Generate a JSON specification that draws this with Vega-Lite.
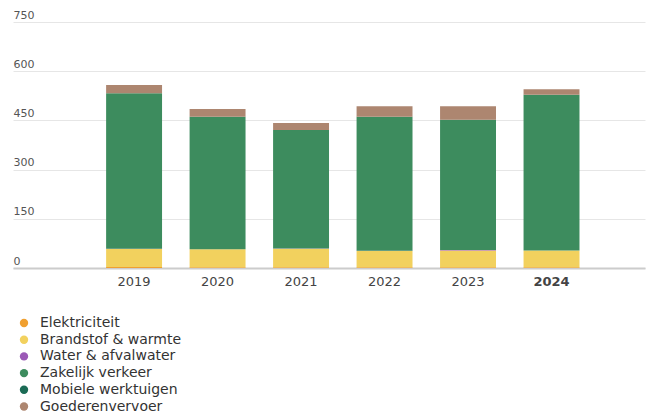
{
  "$schema": "https://vega.github.io/schema/vega-lite/v6.json",
  "autosize": "none",
  "width": 632,
  "height": 246,
  "padding": {"left": 13, "top": 22, "right": 17, "bottom": 147},
  "background": "white",
  "data": {"values": [
    {"jaar": "2019", "cat": "Elektriciteit", "v": 3},
    {"jaar": "2019", "cat": "Brandstof & warmte", "v": 55},
    {"jaar": "2019", "cat": "Water & afvalwater", "v": 0.5},
    {"jaar": "2019", "cat": "Zakelijk verkeer", "v": 474},
    {"jaar": "2019", "cat": "Mobiele werktuigen", "v": 0.5},
    {"jaar": "2019", "cat": "Goederenvervoer", "v": 25},
    {"jaar": "2020", "cat": "Elektriciteit", "v": 2},
    {"jaar": "2020", "cat": "Brandstof & warmte", "v": 55},
    {"jaar": "2020", "cat": "Water & afvalwater", "v": 0.5},
    {"jaar": "2020", "cat": "Zakelijk verkeer", "v": 403.5},
    {"jaar": "2020", "cat": "Mobiele werktuigen", "v": 0.5},
    {"jaar": "2020", "cat": "Goederenvervoer", "v": 23.5},
    {"jaar": "2021", "cat": "Elektriciteit", "v": 2},
    {"jaar": "2021", "cat": "Brandstof & warmte", "v": 57},
    {"jaar": "2021", "cat": "Water & afvalwater", "v": 0.5},
    {"jaar": "2021", "cat": "Zakelijk verkeer", "v": 361},
    {"jaar": "2021", "cat": "Mobiele werktuigen", "v": 0.5},
    {"jaar": "2021", "cat": "Goederenvervoer", "v": 21},
    {"jaar": "2022", "cat": "Elektriciteit", "v": 2},
    {"jaar": "2022", "cat": "Brandstof & warmte", "v": 50},
    {"jaar": "2022", "cat": "Water & afvalwater", "v": 0.5},
    {"jaar": "2022", "cat": "Zakelijk verkeer", "v": 408.5},
    {"jaar": "2022", "cat": "Mobiele werktuigen", "v": 0.5},
    {"jaar": "2022", "cat": "Goederenvervoer", "v": 31.5},
    {"jaar": "2023", "cat": "Elektriciteit", "v": 2},
    {"jaar": "2023", "cat": "Brandstof & warmte", "v": 51},
    {"jaar": "2023", "cat": "Water & afvalwater", "v": 1.5},
    {"jaar": "2023", "cat": "Zakelijk verkeer", "v": 397},
    {"jaar": "2023", "cat": "Mobiele werktuigen", "v": 0.5},
    {"jaar": "2023", "cat": "Goederenvervoer", "v": 41},
    {"jaar": "2024", "cat": "Elektriciteit", "v": 2},
    {"jaar": "2024", "cat": "Brandstof & warmte", "v": 51},
    {"jaar": "2024", "cat": "Water & afvalwater", "v": 0.5},
    {"jaar": "2024", "cat": "Zakelijk verkeer", "v": 474.5},
    {"jaar": "2024", "cat": "Mobiele werktuigen", "v": 0.5},
    {"jaar": "2024", "cat": "Goederenvervoer", "v": 16.5}
  ]},
  "transform": [
    {"calculate": "indexof(['Elektriciteit', 'Brandstof & warmte', 'Water & afvalwater', 'Zakelijk verkeer', 'Mobiele werktuigen', 'Goederenvervoer'], datum.cat)", "as": "volgorde"}
  ],
  "mark": {"type": "bar"},
  "encoding": {
    "x": {
      "field": "jaar", "type": "ordinal",
      "scale": {"paddingInner": 0.33, "paddingOuter": 0.95, "align": 0.587},
      "axis": {
        "title": null, "labelAngle": 0, "ticks": false, "tickSize": 0,
        "domainColor": "#cccccc", "domainWidth": 2, "labelPadding": 7,
        "labelFont": "DejaVu Sans", "labelFontSize": 13, "labelColor": "#444444",
        "labelFontWeight": {"condition": {"test": "datum.value == '2024'", "value": "bold"}, "value": "normal"}
      }
    },
    "y": {
      "field": "v", "type": "quantitative", "stack": "zero",
      "scale": {"domain": [0, 750], "nice": false},
      "axis": {
        "title": null, "values": [0, 150, 300, 450, 600, 750],
        "domain": false, "ticks": false, "tickSize": 0, "labelPadding": 0,
        "labelAlign": "left", "labelBaseline": "alphabetic", "labelOffset": -4,
        "labelFont": "DejaVu Sans", "labelFontSize": 11, "labelColor": "#555555",
        "gridColor": "#e6e6e6", "gridWidth": 1
      }
    },
    "order": {"field": "volgorde", "type": "quantitative", "sort": "ascending"},
    "color": {
      "field": "cat", "type": "nominal",
      "sort": ["Elektriciteit", "Brandstof & warmte", "Water & afvalwater", "Zakelijk verkeer", "Mobiele werktuigen", "Goederenvervoer"],
      "scale": {
        "domain": ["Elektriciteit", "Brandstof & warmte", "Water & afvalwater", "Zakelijk verkeer", "Mobiele werktuigen", "Goederenvervoer"],
        "range": ["#f0a030", "#f2d15e", "#9b59b6", "#3d8c5e", "#1b6b55", "#ad8670"]
      },
      "legend": {
        "title": null, "orient": "none", "legendX": 4, "legendY": 294,
        "direction": "vertical", "padding": 0,
        "symbolType": "circle", "symbolSize": 70, "symbolStrokeWidth": 0,
        "labelFont": "DejaVu Sans", "labelFontSize": 14, "labelColor": "#333333",
        "labelOffset": 9, "rowPadding": 2.7
      }
    }
  },
  "config": {"view": {"stroke": null}}
}
